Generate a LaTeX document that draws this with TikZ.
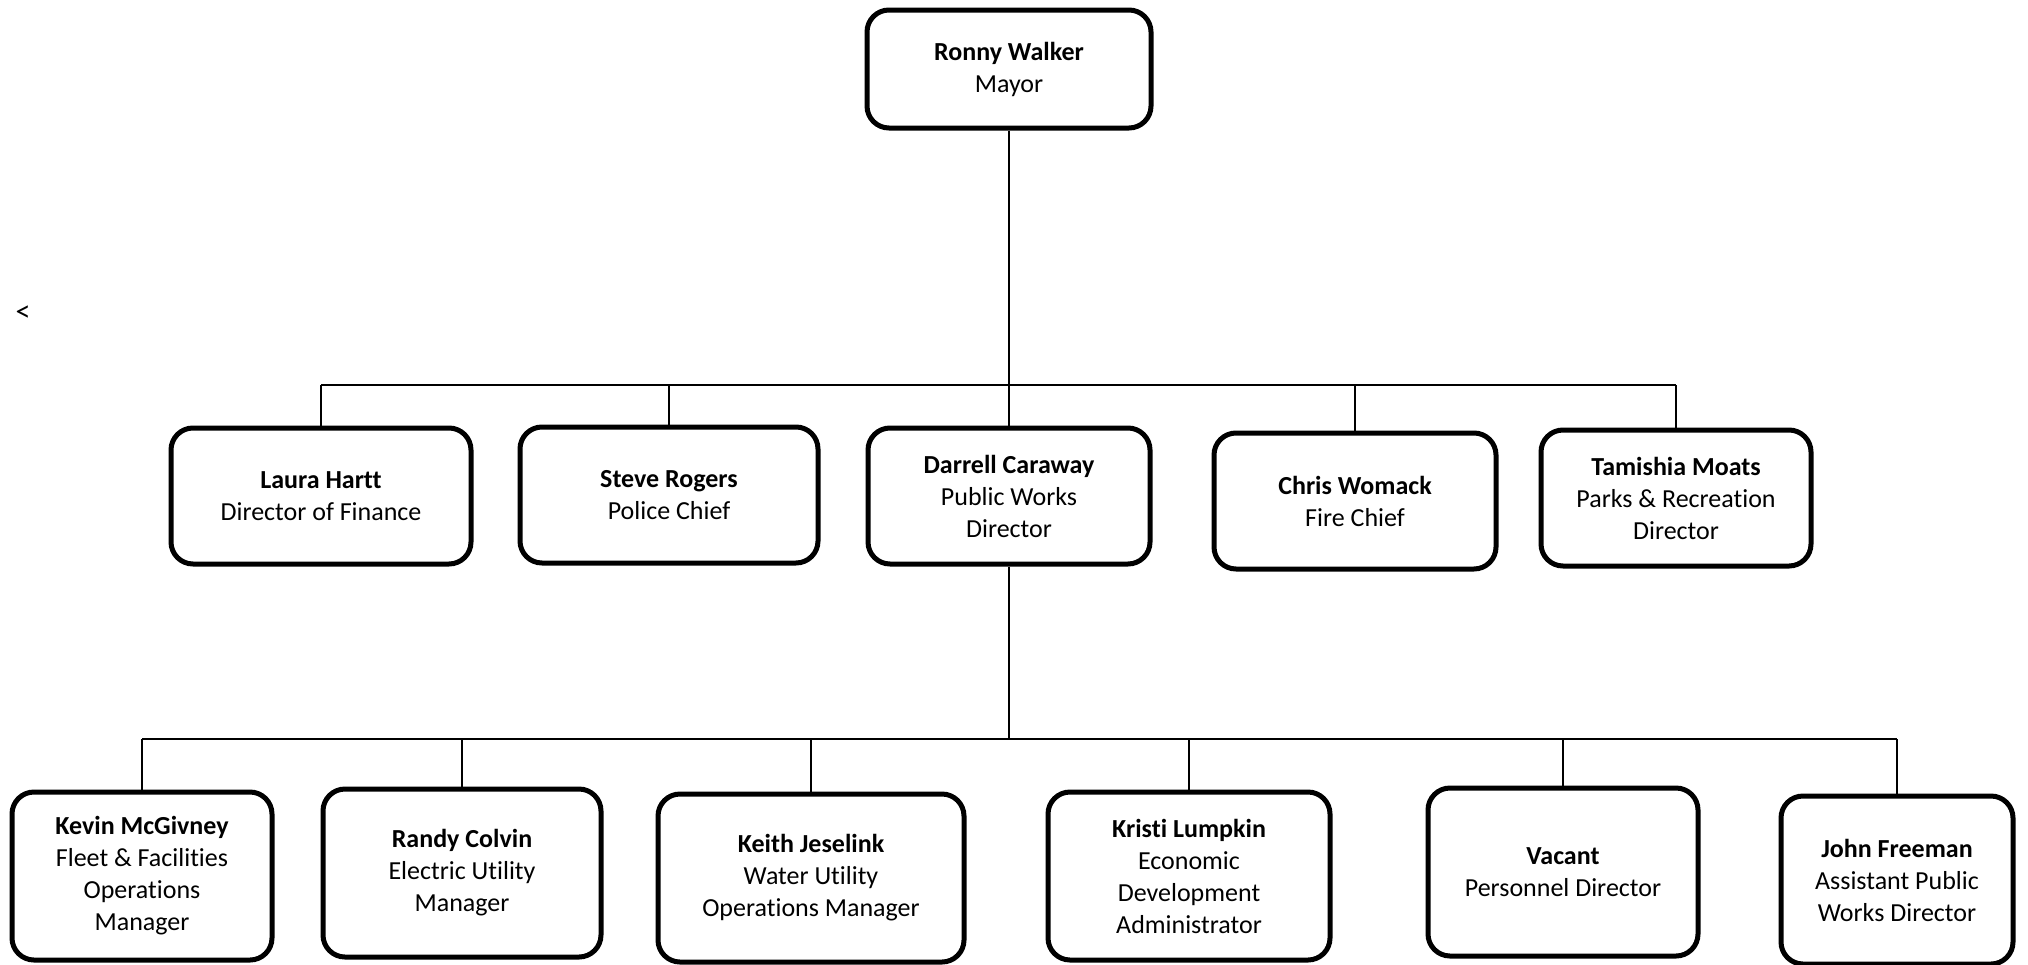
\documentclass[tikz,border=0pt]{standalone}
\usepackage{fontspec}
\setmainfont[Ligatures={NoCommon}]{Carlito}
\tikzset{
  person/.style={draw, line width=2.5pt, rounded corners=11pt, align=center,
    inner sep=2pt, font=\fontsize{13}{16}\selectfont},
  link/.style={line width=1pt}
}
\begin{document}
\begin{tikzpicture}[x=0.5pt, y=-0.5pt]
    \useasboundingbox (0,0) rectangle (2028,964);

    % Mayor at the top
    \node[person, minimum width=142pt, minimum height=59pt] (mayor) at (1009,69)
        {\textbf{Ronny Walker}\\Mayor};

    % Stray mark on the left
    \node[font=\fontsize{15}{18}\selectfont] (mark) at (23,314) {<};

    % Department heads
    \foreach \n/\x/\y/\w/\t in {
        laura/321/496/150/{\textbf{Laura Hartt}\\Director of Finance},
        steve/669/495/149/{\textbf{Steve Rogers}\\Police Chief},
        darrell/1009/496/141/{\textbf{Darrell Caraway}\\Public Works\\Director},
        chris/1355/501/141/{\textbf{Chris Womack}\\Fire Chief},
        tamishia/1676/498/135/{\textbf{Tamishia Moats}\\Parks \& Recreation\\Director}} {
        \node[person, minimum width=\w pt, minimum height=68pt] (\n) at (\x,\y) {\t};
    }

    % Public works staff
    \foreach \n/\x/\y/\w/\t in {
        kevin/142/876/130/{\textbf{Kevin McGivney}\\Fleet \& Facilities\\Operations\\Manager},
        randy/462/873/139/{\textbf{Randy Colvin}\\Electric Utility\\Manager},
        keith/811/878/153/{\textbf{Keith Jeselink}\\Water Utility\\Operations Manager},
        kristi/1189/876/141/{\textbf{Kristi Lumpkin}\\Economic\\Development\\Administrator},
        vacant/1563/872/135/{\textbf{Vacant}\\Personnel Director},
        john/1897/880/116/{\textbf{John Freeman}\\Assistant Public\\Works Director}} {
        \node[person, minimum width=\w pt, minimum height=84pt] (\n) at (\x,\y) {\t};
    }

    % Lines from the mayor
    \coordinate (bar1) at (0,385);
    \draw[link] (mayor.south) -- (darrell.north);
    \draw[link] (laura.north |- bar1) -- (tamishia.north |- bar1);
    \foreach \n in {laura, steve, chris, tamishia} {
        \draw[link] (\n.north) -- (\n.north |- bar1);
    }

    % Lines from public works
    \coordinate (bar2) at (0,739);
    \draw[link] (darrell.south) -- (darrell.south |- bar2);
    \draw[link] (kevin.north |- bar2) -- (john.north |- bar2);
    \foreach \n in {kevin, randy, keith, kristi, vacant, john} {
        \draw[link] (\n.north) -- (\n.north |- bar2);
    }
\end{tikzpicture}
\end{document}
